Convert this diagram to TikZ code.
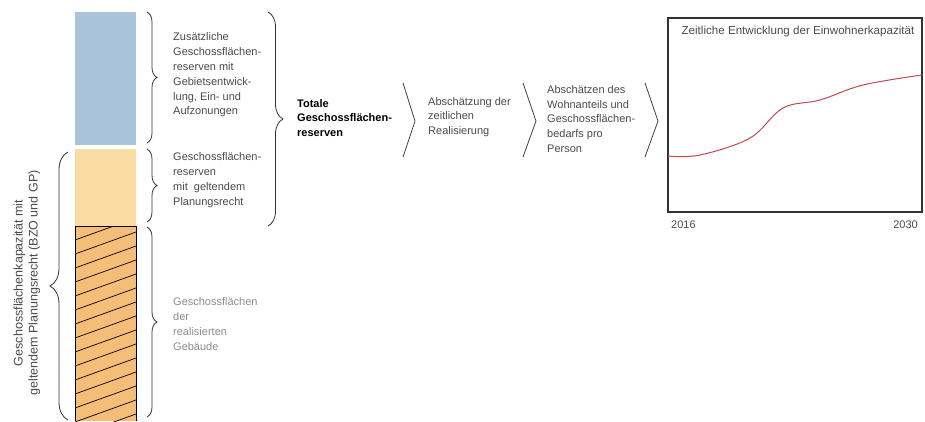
\documentclass[tikz,border=0pt]{standalone}
\usepackage{fontspec}
\setmainfont{Liberation Sans}
\usetikzlibrary{decorations.pathreplacing}

\definecolor{blaugrau}{HTML}{A9C4DA}
\definecolor{hellorange}{HTML}{F8DCA2}
\definecolor{dunkelorange}{HTML}{F4BE78}
\definecolor{textgrau}{HTML}{4A4A4A}
\definecolor{hellgrau}{HTML}{8C8C8C}
\definecolor{kurvenrot}{HTML}{C4474F}

\tikzset{
  klammer/.style={draw=black!80, line width=0.8pt, decorate,
    decoration={brace, amplitude=#1}},
  klammer/.default=10pt,
  pfeil/.style={draw=black!75, line width=0.8pt},
  label/.style={align=left, inner sep=0pt, font=\fontsize{11}{14.8}\selectfont, text=textgrau}
}

\begin{document}
\begin{tikzpicture}[x=1pt, y=-1pt]
    \useasboundingbox (0,0) rectangle (925,421);

    % Draw the stacked bar
    \fill[blaugrau] (75,12) rectangle (136,145);
    \fill[hellorange] (75,149) rectangle (136,226);
    \fill[dunkelorange] (75,226) rectangle (136,421);
    \begin{scope}
      \clip (75,226) rectangle (136,421);
      \foreach \i in {0,...,16}
        \draw[line width=0.7pt] (75,226+14*\i) -- ++(61,-22);
    \end{scope}
    \draw[line width=0.7pt] (75,421) -- (75,226) -- (136,226) -- (136,421);

    % Draw the braces next to the bar
    \draw[klammer] (147,12) -- (147,143);
    \draw[klammer] (147,149) -- (147,222);
    \draw[klammer] (147,227) -- (147,417);
    \draw[klammer=15pt] (268,12) -- (268,226);
    \draw[klammer=18pt] (68,420) -- (68,152);

    % Add the brace labels
    \node[label, anchor=west] (zusatz) at (173,75)
      {Zusätzliche\\Geschossflächen-\\reserven mit\\Gebietsentwick-\\lung, Ein- und\\Aufzonungen};
    \node[label, anchor=west] (geltend) at (173,180)
      {Geschossflächen-\\reserven\\mit\ \ geltendem\\Planungsrecht};
    \node[label, anchor=west, text=hellgrau] (realisiert) at (173,324)
      {Geschossflächen\\der\\realisierten\\Gebäude};
    \node[label, align=center, rotate=90, font=\fontsize{12.5}{15}\selectfont] (kapazitaet) at (27,283)
      {Geschossflächenkapazität mit\\geltendem Planungsrecht (BZO und GP)};

    % Add the steps with chevrons
    \node[label, anchor=west, text=black, font=\fontsize{11}{14.8}\selectfont\bfseries] (totale) at (297,118)
      {Totale\\Geschossflächen-\\reserven};
    \draw[pfeil] (403,83) -- (415,121) -- (403,157);
    \node[label, anchor=west] (realisierung) at (428,117)
      {Abschätzung der\\zeitlichen\\Realisierung};
    \draw[pfeil] (523,83) -- (536,121) -- (523,157);
    \node[label, anchor=west] (wohnanteil) at (547,119)
      {Abschätzen des\\Wohnanteils und\\Geschossflächen-\\bedarfs pro\\Person};
    \draw[pfeil] (645,83) -- (658,121) -- (645,157);

    % Draw the chart
    \draw[black!80, line width=1.1pt] (668,18) rectangle (922,212);
    \node[label, anchor=north, font=\fontsize{11.6}{14}\selectfont] (titel) at (798,26) {Zeitliche Entwicklung der Einwohnerkapazität};
    \draw[kurvenrot, line width=1pt] plot[smooth, tension=0.6] coordinates
      {(668,156) (700,155) (750,138) (783,108) (820,100) (863,85) (922,75)};
    \node[label, anchor=west] (jahrA) at (671,225) {2016};
    \node[label, anchor=east] (jahrB) at (918,225) {2030};

\end{tikzpicture}
\end{document}
